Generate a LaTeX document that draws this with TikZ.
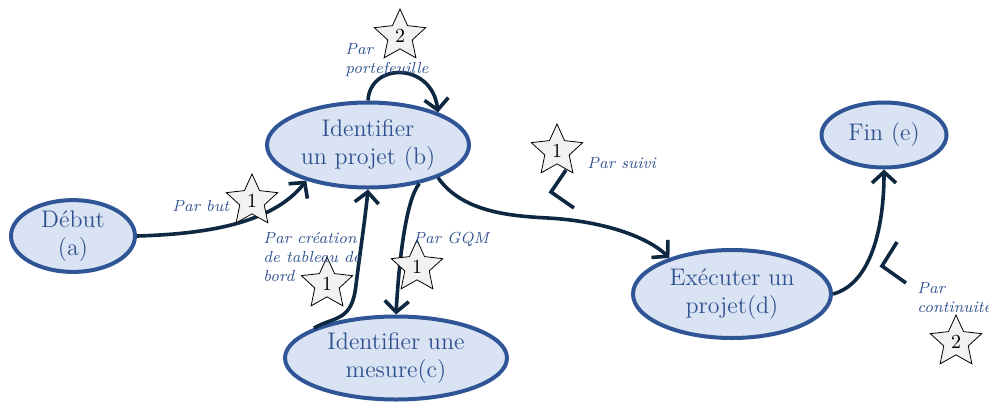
\documentclass[tikz,border=0pt]{standalone}
\usepackage{tikz}
\usetikzlibrary{shapes.geometric,arrows.meta}

\definecolor{bordbleu}{HTML}{2F5597}
\definecolor{fondbleu}{HTML}{DAE3F3}
\definecolor{textebleu}{HTML}{2F528F}
\definecolor{marine}{HTML}{0E2841}
\definecolor{grisclair}{HTML}{F2F2F2}

\begin{document}
\begin{tikzpicture}[x=0.5pt,y=-0.5pt]
\tikzset{etape/.style={ellipse,draw=bordbleu,line width=2pt,fill=fondbleu,text=textebleu,font=\large,align=center,inner sep=0pt},
    lien/.style={draw=marine,line width=1.8pt,-{Straight Barb[length=5.5pt,width=12pt]}},
    etoile/.style={star,star points=5,star point ratio=2.1,draw=black,line width=0.4pt,fill=grisclair,minimum size=27pt,inner sep=0pt,font=\normalsize},
    legende/.style={text=textebleu,font=\footnotesize\itshape,align=left,anchor=west,inner sep=0pt}};
\useasboundingbox (0,0) rectangle (989,403);
    % etapes
    \node[etape,minimum width=62pt,minimum height=32pt] (a) at (73,236) {D\'ebut\\(a)};
    \node[etape,minimum width=101pt,minimum height=42.5pt] (b) at (368,145) {Identifier\\un projet (b)};
    \node[etape,minimum width=111pt,minimum height=41.5pt] (c) at (396,358) {Identifier une\\mesure(c)};
    \node[etape,minimum width=99pt,minimum height=44pt] (d) at (732,294) {Ex\'ecuter un\\projet(d)};
    \node[etape,minimum width=62.5pt,minimum height=32.5pt] (e) at (884,135) {Fin (e)};
    % liens
    \draw[lien] (a.0) .. controls (205,234) and (272,224) .. (b.210);
    \draw[lien] (b.90) .. controls (370,62) and (432,62) .. (b.25);
    \draw[lien] (c.160) .. controls (335,316) and (352,322) .. (356,285) .. controls (361,245) and (365,220) .. (b.270);
    \draw[lien] (b.323) .. controls (406,200) and (399,260) .. (c.90);
    \draw[lien] (b.335) .. controls (462,212) and (510,216) .. (548,218) .. controls (600,221) and (645,235) .. (d.150);
    \draw[lien] (d.0) .. controls (870,284) and (884,230) .. (e.270);
    % eclairs
    \draw[draw=marine,line width=1.8pt] (566,170) -- (551,192) -- (574,208);
    \draw[draw=marine,line width=1.8pt] (897,242) -- (882,266) -- (906,283);
    % etoiles
    \node[etoile] (s1) at (400,36) {2};
    \node[etoile] (s2) at (252,201) {1};
    \node[etoile] (s3) at (557,151) {1};
    \node[etoile] (s4) at (327,284) {1};
    \node[etoile] (s5) at (417,267) {1};
    \node[etoile] (s6) at (956,342) {2};
    % legendes
    \node[legende] (l1) at (345,60) {Par\\portefeuille};
    \node[legende] (l2) at (172,206) {Par but};
    \node[legende] (l3) at (263,257) {Par cr\'eation\\de tableau de\\bord};
    \node[legende] (l4) at (413,239) {Par GQM};
    \node[legende] (l5) at (587,163) {Par suivi};
    \node[legende] (l6) at (917,298) {Par\\continuit\'e};
\end{tikzpicture}
\end{document}
